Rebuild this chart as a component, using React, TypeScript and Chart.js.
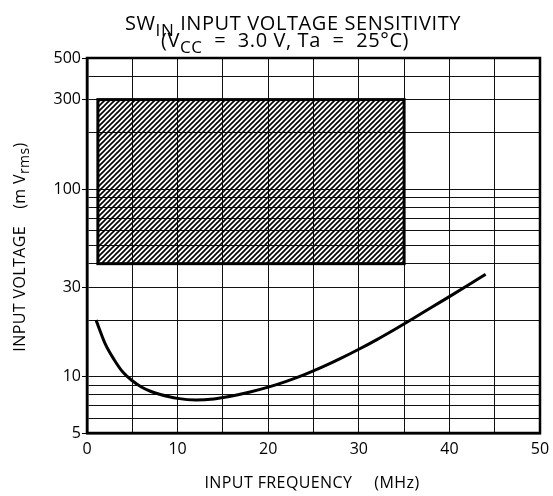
import { useEffect, useRef } from 'react';
import { Chart, registerables } from 'chart.js';

Chart.register(...registerables);

// ---- data ----
const frequencyMHz = [1, 2, 3, 4, 5, 6, 7, 8, 10, 12, 14, 16, 18, 20, 22, 24, 26, 28, 30, 32, 34, 36, 38, 40, 42, 44];
const inputVoltageMv = [20, 15, 12.3, 10.5, 9.5, 8.8, 8.35, 8.05, 7.65, 7.5, 7.6, 7.88, 8.27, 8.78, 9.43, 10.24, 11.25, 12.49, 13.98, 15.75, 17.88, 20.39, 23.35, 26.69, 30.57, 35.1];
const windowFreqMHz = [1.2, 35];
const windowVoltMv = [40, 300];
const yGridValues = [5, 6, 7, 8, 9, 10, 20, 30, 40, 50, 60, 70, 80, 90, 100, 200, 300, 400, 500];
const yLabelValues = [5, 10, 30, 100, 300, 500];
const xLabelValues = [0, 10, 20, 30, 40, 50];

const FONT = '"Open Sans", "Noto Sans", sans-serif';

type Seg = { text: string; size: number; dy?: number; gap?: number };

function drawSegments(ctx: CanvasRenderingContext2D, segs: Seg[], cx: number, baseY: number, spacing: number) {
  (ctx as any).letterSpacing = `${spacing}px`;
  let total = 0;
  const widths = segs.map((s) => {
    if (s.gap) return s.gap;
    ctx.font = `${s.size}px ${FONT}`;
    return ctx.measureText(s.text).width;
  });
  widths.forEach((w) => (total += w));
  let x = cx - total / 2;
  ctx.textAlign = 'left';
  ctx.textBaseline = 'alphabetic';
  segs.forEach((s, i) => {
    if (!s.gap) {
      ctx.font = `${s.size}px ${FONT}`;
      ctx.fillText(s.text, x, baseY + (s.dy || 0));
    }
    x += widths[i];
  });
  (ctx as any).letterSpacing = '0px';
}

function makeHatch(): CanvasPattern | string {
  const c = document.createElement('canvas');
  c.width = 5;
  c.height = 5;
  const g = c.getContext('2d');
  if (!g) return '#000';
  g.strokeStyle = '#000';
  g.lineWidth = 1.6;
  g.beginPath();
  g.moveTo(-1, 6);
  g.lineTo(6, -1);
  g.moveTo(-1, 1);
  g.lineTo(1, -1);
  g.moveTo(4, 6);
  g.lineTo(6, 4);
  g.stroke();
  const p = g.createPattern(c, 'repeat');
  return p || '#000';
}

const customDraw = {
  id: 'customDraw',
  beforeDatasetsDraw(chart: any) {
    const { ctx, scales } = chart;
    const xs = scales.x;
    const ys = scales.y;
    const l = xs.getPixelForValue(windowFreqMHz[0]);
    const r = xs.getPixelForValue(windowFreqMHz[1]);
    const t = ys.getPixelForValue(windowVoltMv[1]);
    const b = ys.getPixelForValue(windowVoltMv[0]);
    ctx.save();
    ctx.fillStyle = makeHatch();
    ctx.fillRect(l, t, r - l, b - t);
    ctx.lineWidth = 3;
    ctx.strokeStyle = '#000';
    ctx.strokeRect(l, t, r - l, b - t);
    ctx.restore();
  },
  afterDraw(chart: any) {
    const { ctx, chartArea } = chart;
    ctx.save();
    ctx.strokeStyle = '#000';
    ctx.lineWidth = 2.5;
    ctx.strokeRect(chartArea.left, chartArea.top, chartArea.right - chartArea.left, chartArea.bottom - chartArea.top);
    ctx.fillStyle = '#000';
    // title
    drawSegments(ctx, [
      { text: 'SW', size: 20 },
      { text: 'IN', size: 17, dy: 6 },
      { text: ' INPUT VOLTAGE SENSITIVITY', size: 20 },
    ], 293, 29.5, 0.6);
    drawSegments(ctx, [
      { text: '(V', size: 20 },
      { text: 'CC', size: 17, dy: 6 },
      { text: '  =  3.0 V, Ta  =  25°C)', size: 20 },
    ], 285, 46.5, 0.6);
    // x title
    drawSegments(ctx, [
      { text: 'INPUT FREQUENCY', size: 16 },
      { text: '', size: 16, gap: 22 },
      { text: '(MHz)', size: 16 },
    ], 312, 488, 0.4);
    // y title
    ctx.translate(25, 247);
    ctx.rotate(-Math.PI / 2);
    drawSegments(ctx, [
      { text: 'INPUT VOLTAGE', size: 16 },
      { text: '', size: 16, gap: 17 },
      { text: '(m V', size: 16 },
      { text: 'rms', size: 14, dy: 4 },
      { text: ')', size: 16 },
    ], 0, 0, 0.4);
    ctx.restore();
  },
};

export default function App() {
  const ref = useRef<HTMLCanvasElement | null>(null);
  useEffect(() => {
    if (!ref.current) return;
    const chart = new Chart(ref.current, {
      type: 'line',
      data: {
        datasets: [
          {
            data: frequencyMHz.map((f, i) => ({ x: f, y: inputVoltageMv[i] })),
            borderColor: '#000',
            borderWidth: 3,
            pointRadius: 0,
            cubicInterpolationMode: 'monotone',
            fill: false,
          },
        ],
      },
      options: {
        responsive: false,
        animation: false,
        events: [],
        layout: { padding: { top: 58, right: 13, left: 0, bottom: 0 } },
        plugins: { legend: { display: false }, title: { display: false }, tooltip: { enabled: false } },
        scales: {
          x: {
            type: 'linear',
            min: 0,
            max: 50,
            afterFit: (s: any) => {
              s.height = 63;
              s.paddingLeft = 0;
              s.paddingRight = 0;
            },
            ticks: {
              stepSize: 5,
              autoSkip: false,
              maxRotation: 0,
              padding: 7,
              color: '#000',
              font: { family: FONT, size: 16 },
              callback: (v: any) => (xLabelValues.includes(Number(v)) ? String(v) : ''),
            },
            grid: { color: '#111', lineWidth: 1, drawTicks: false },
            border: { display: true, color: '#000', width: 2.5 },
          },
          y: {
            type: 'logarithmic',
            min: 5,
            max: 500,
            afterFit: (s: any) => {
              s.width = 87;
              s.paddingTop = 0;
              s.paddingBottom = 0;
            },
            afterBuildTicks: (s: any) => {
              s.ticks = yGridValues.map((v) => ({ value: v }));
            },
            ticks: {
              autoSkip: false,
              padding: 1,
              color: '#000',
              font: { family: FONT, size: 16 },
              callback: (v: any) => (yLabelValues.includes(Number(v)) ? String(v) : ''),
            },
            grid: {
              color: '#111',
              lineWidth: 1,
              tickLength: 5,
              tickColor: (c: any) => (c.tick && yLabelValues.includes(c.tick.value) ? '#000' : 'rgba(0,0,0,0)'),
            },
            border: { display: true, color: '#000', width: 2.5 },
          },
        },
      } as any,
      plugins: [customDraw],
    });
    return () => chart.destroy();
  }, []);
  return (
    <div style={{ position: 'absolute', left: 0, top: 0, width: 553, height: 496, background: '#fff' }}>
      <canvas ref={ref} width={553} height={496} />
    </div>
  );
}
